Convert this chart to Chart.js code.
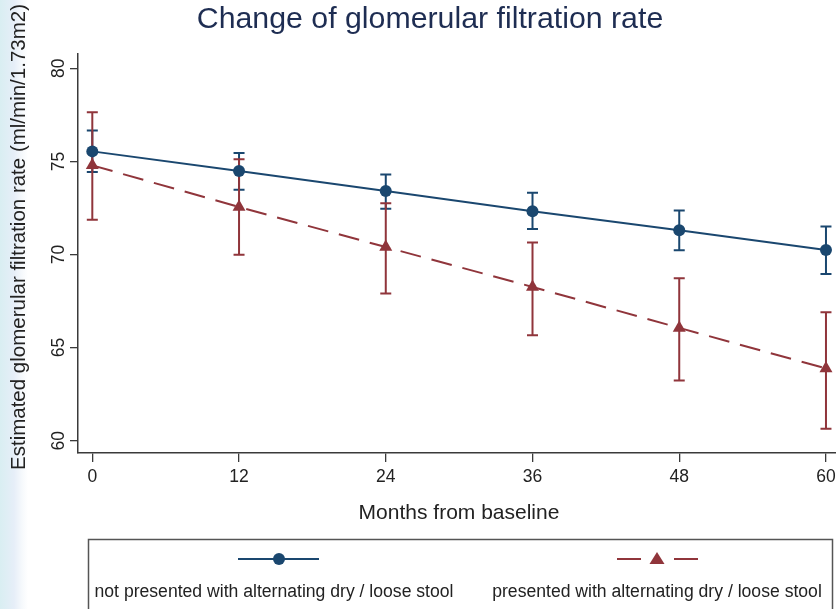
<!DOCTYPE html>
<html>
<head>
<meta charset="utf-8">
<script src="https://cdn.jsdelivr.net/npm/chart.js@4/dist/chart.umd.min.js"></script>
<style>
  html, body { margin: 0; padding: 0; }
  body {
    width: 836px; height: 609px; overflow: hidden;
    background: linear-gradient(to right, #d9eef2 0px, #e6eef8 14px, #f6f9fc 22px, #ffffff 28px);
  }
  #wrap { position: relative; width: 836px; height: 609px; }
</style>
</head>
<body>
<div id="wrap"><canvas id="c" width="836" height="609"></canvas></div>
<script>
// ---- data ----
const months = [0, 12, 24, 36, 48, 60];
const xTicks = [0, 12, 24, 36, 48, 60];
const yTicks = [60, 65, 70, 75, 80];

const blueMean = [75.54, 74.48, 73.41, 72.33, 71.30, 70.24];
const blueLow  = [74.43, 73.48, 72.46, 71.37, 70.23, 68.95];
const blueHigh = [76.66, 75.45, 74.30, 73.32, 72.36, 71.50];

const redMean = [74.79, 72.55, 70.40, 68.26, 66.06, 63.88];
const redLow  = [71.87, 69.99, 67.90, 65.67, 63.23, 60.64];
const redHigh = [77.64, 75.12, 72.76, 70.65, 68.72, 66.90];

const titleText = 'Change of glomerular filtration rate';
const xTitle = 'Months from baseline';
const yTitle = 'Estimated glomerular filtration rate (ml/min/1.73m2)';
const legendLabels = ['not presented with alternating dry / loose stool',
                      'presented with alternating dry / loose stool'];

// ---- styles ----
const BLUE = '#1a476f';
const RED = '#90353b';
const FONT = '"Liberation Sans", Arial, sans-serif';
const AXIS = '#3a3a3a';

const errPlugin = {
  id: 'errbars',
  beforeDatasetsDraw(chart) {
    const { ctx, scales: { x, y } } = chart;
    const groups = [[blueLow, blueHigh, BLUE], [redLow, redHigh, RED]];
    ctx.save();
    groups.forEach(([lo, hi, col]) => {
      ctx.strokeStyle = col;
      ctx.lineWidth = 2;
      months.forEach((m, i) => {
        const px = x.getPixelForValue(m);
        const y1 = y.getPixelForValue(lo[i]);
        const y2 = y.getPixelForValue(hi[i]);
        ctx.beginPath();
        ctx.moveTo(px, y1); ctx.lineTo(px, y2);
        ctx.moveTo(px - 5.5, y1); ctx.lineTo(px + 5.5, y1);
        ctx.moveTo(px - 5.5, y2); ctx.lineTo(px + 5.5, y2);
        ctx.stroke();
      });
    });
    ctx.restore();
  }
};

const decorPlugin = {
  id: 'decor',
  afterDraw(chart) {
    const { ctx } = chart;
    ctx.save();
    // title
    ctx.fillStyle = '#1e2d52';
    ctx.font = '30.3px ' + FONT;
    ctx.textAlign = 'center';
    ctx.textBaseline = 'middle';
    ctx.fillText(titleText, 430, 20);
    // x title
    ctx.fillStyle = '#222';
    ctx.font = '21px ' + FONT;
    ctx.fillText(xTitle, 459, 513);
    // y title
    ctx.save();
    ctx.translate(19, 237);
    ctx.rotate(-Math.PI / 2);
    ctx.font = '20.5px ' + FONT;
    ctx.fillText(yTitle, 0, 0);
    ctx.restore();

    // legend box
    ctx.strokeStyle = '#555';
    ctx.lineWidth = 1.5;
    ctx.strokeRect(88.5, 539.5, 744, 72);
    // blue sample
    const ly = 559;
    ctx.strokeStyle = BLUE; ctx.lineWidth = 2;
    ctx.beginPath(); ctx.moveTo(238, ly); ctx.lineTo(319, ly); ctx.stroke();
    ctx.fillStyle = BLUE;
    ctx.beginPath(); ctx.arc(279, ly, 6, 0, Math.PI * 2); ctx.fill();
    // red sample
    ctx.strokeStyle = RED;
    ctx.beginPath(); ctx.moveTo(617, ly); ctx.lineTo(641, ly);
    ctx.moveTo(674, ly); ctx.lineTo(698, ly); ctx.stroke();
    ctx.fillStyle = RED;
    ctx.beginPath(); ctx.moveTo(657, ly - 7); ctx.lineTo(664.5, ly + 5); ctx.lineTo(649.5, ly + 5); ctx.closePath(); ctx.fill();
    // legend text
    ctx.fillStyle = '#222';
    ctx.font = '17.6px ' + FONT;
    ctx.textAlign = 'center';
    ctx.fillText(legendLabels[0], 274, 592);
    ctx.fillText(legendLabels[1], 657, 592);
    ctx.restore();
  }
};

new Chart(document.getElementById('c'), {
  type: 'line',
  data: {
    datasets: [
      {
        label: legendLabels[0],
        data: months.map((m, i) => ({ x: m, y: blueMean[i] })),
        borderColor: BLUE, backgroundColor: BLUE,
        borderWidth: 2, pointStyle: 'circle', pointRadius: 6, pointBorderWidth: 0,
        tension: 0, order: 2, clip: false
      },
      {
        label: legendLabels[1],
        data: months.map((m, i) => ({ x: m, y: redMean[i] })),
        borderColor: RED, backgroundColor: RED,
        borderWidth: 2, borderDash: [21, 11], pointStyle: 'triangle', pointRadius: 7.5, pointBorderWidth: 0,
        tension: 0, order: 1, clip: false
      }
    ]
  },
  options: {
    responsive: false,
    animation: false,
    devicePixelRatio: 1,
    layout: { autoPadding: false, padding: { top: 54, right: 0, left: 0, bottom: 0 } },
    plugins: { legend: { display: false }, title: { display: false }, tooltip: { enabled: false } },
    scales: {
      x: {
        type: 'linear', min: -1.17, max: 60.82,
        afterBuildTicks: s => { s.ticks = xTicks.map(v => ({ value: v })); },
        afterFit: s => { s.height = 156; s.paddingLeft = 0; s.paddingRight = 0; },
        grid: { drawOnChartArea: false, drawTicks: true, tickLength: 9, color: AXIS, lineWidth: 1.3 },
        border: { display: true, color: AXIS, width: 1.5 },
        ticks: { color: '#222', font: { family: FONT, size: 17.5 }, padding: 5, maxRotation: 0, minRotation: 0 }
      },
      y: {
        type: 'linear', min: 59.34, max: 80.77,
        afterBuildTicks: s => { s.ticks = yTicks.map(v => ({ value: v })); },
        afterFit: s => { s.width = 78; s.paddingTop = 0; s.paddingBottom = 0; },
        grid: { drawOnChartArea: false, drawTicks: true, tickLength: 8, color: AXIS, lineWidth: 1.3 },
        border: { display: true, color: AXIS, width: 1.5 },
        ticks: { color: '#222', font: { family: FONT, size: 17.5 }, padding: 1, minRotation: 90, maxRotation: 90, crossAlign: 'center' }
      }
    }
  },
  plugins: [errPlugin, decorPlugin]
});
</script>
</body>
</html>
